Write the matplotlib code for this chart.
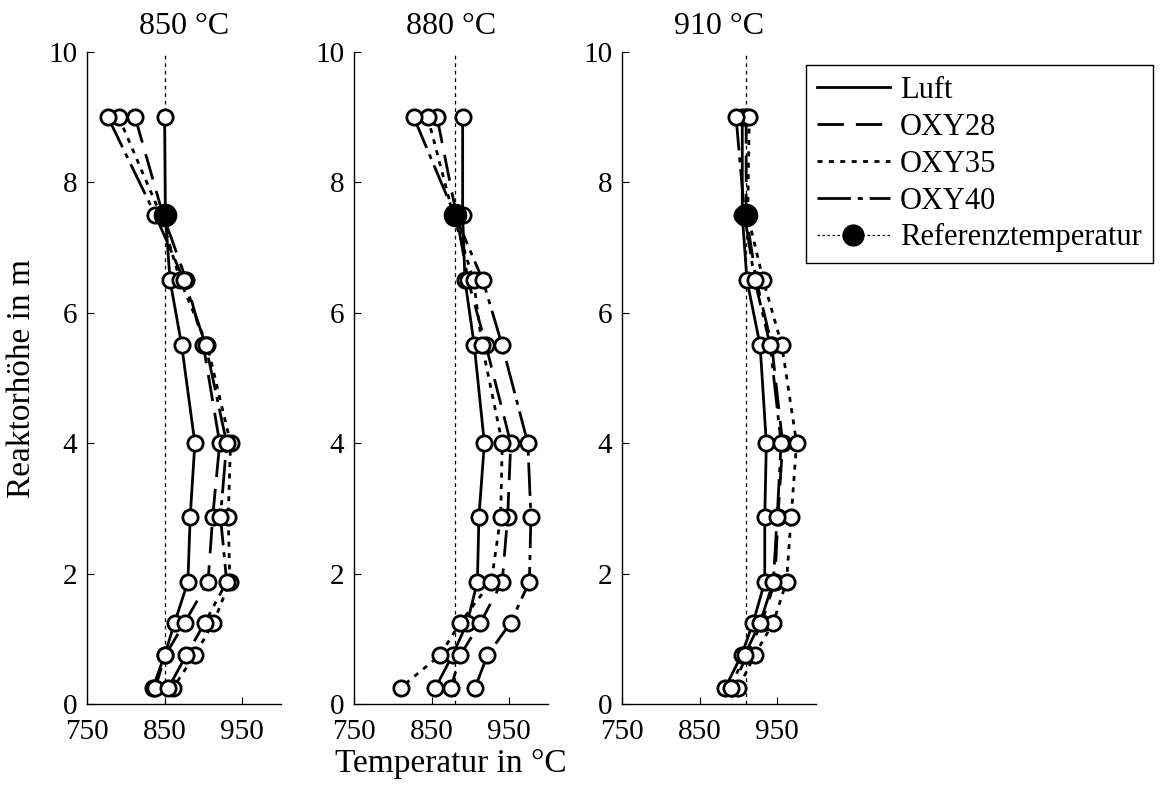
import numpy as np
import matplotlib.pyplot as plt
from matplotlib.lines import Line2D

plt.rcParams['font.family'] = ['Liberation Serif', 'DejaVu Serif']
plt.rcParams['font.size'] = 23

# Messhoehen im Reaktor (m)
hoehe = [9.0, 7.5, 6.5, 5.5, 4.0, 2.875, 1.875, 1.25, 0.75, 0.25]

# Referenztemperaturen der drei Versuchsreihen
ref_temp = [850, 880, 910]
titel = ['850 °C', '880 °C', '910 °C']

# Temperaturprofile in °C, 850 °C Referenz
luft_850 = [850, 851, 857, 872, 889, 883, 880, 863, 850, 835]
oxy28_850 = [812, 848, 878, 900, 921, 912, 906, 876, 851, 838]
oxy35_850 = [791, 845, 870, 905, 935, 932, 934, 913, 889, 861]
oxy40_850 = [777, 838, 875, 903, 930, 922, 930, 902, 878, 855]

# 880 °C Referenz
luft_880 = [890, 890, 893, 905, 918, 911, 909, 896, 877, 855]
oxy28_880 = [857, 882, 897, 920, 952, 948, 941, 913, 887, 875]
oxy35_880 = [845, 878, 904, 915, 941, 939, 927, 887, 861, 810]
oxy40_880 = [827, 880, 916, 941, 974, 978, 976, 952, 922, 906]

# 910 °C Referenz
luft_910 = [905, 905, 911, 928, 936, 934, 934, 919, 904, 883]
oxy28_910 = [910, 910, 923, 943, 957, 951, 947, 930, 911, 892]
oxy35_910 = [914, 912, 932, 956, 975, 968, 962, 945, 921, 900]
oxy40_910 = [897, 908, 921, 941, 955, 950, 945, 928, 908, 890]

luft = [luft_850, luft_880, luft_910]
oxy28 = [oxy28_850, oxy28_880, oxy28_910]
oxy35 = [oxy35_850, oxy35_880, oxy35_910]
oxy40 = [oxy40_850, oxy40_880, oxy40_910]

namen = ['Luft', 'OXY28', 'OXY35', 'OXY40']
stile = ['-', (0, (9.5, 4.3)), (0, (1.8, 2.3)), (0, (12, 2.5, 1.8, 2.5))]
lw = 2.0

fig = plt.figure(figsize=(11.65, 7.85), dpi=100)
lefts = [87/1165, 354/1165, 622/1165]
bottom = 1 - 704/785
height = (704 - 52)/785
width = 194/1165

for i in range(3):
    ax = fig.add_axes([lefts[i], bottom, width, height])
    # Referenztemperatur als senkrechte Linie
    ax.plot([ref_temp[i], ref_temp[i]], [0, 10], color='black',
            linestyle=(0, (3, 3)), linewidth=0.9, zorder=1)
    reihen = [luft[i], oxy28[i], oxy35[i], oxy40[i]]
    for k in range(4):
        ax.plot(reihen[k], hoehe, color='black', linestyle=stile[k],
                linewidth=lw, marker='o', markersize=11,
                markerfacecolor='white', markeredgecolor='black',
                markeredgewidth=2.0, zorder=3)
    ax.plot([ref_temp[i]], [7.5], marker='o', markersize=16,
            color='black', linestyle='none', zorder=4)
    ax.set_xlim(750, 1000)
    ax.set_ylim(0, 10)
    ax.set_xticks([750, 850, 950])
    ax.set_yticks([0, 2, 4, 6, 8, 10])
    ax.spines['top'].set_visible(False)
    ax.spines['right'].set_visible(False)
    for s in ['left', 'bottom']:
        ax.spines[s].set_linewidth(1.0)
    ax.tick_params(direction='in', length=5, width=0.8, labelsize=21)
    ax.tick_params(axis='x', pad=11)
    ax.tick_params(axis='y', pad=7)
    ax.set_title(titel[i], fontsize=23, pad=13)
    if i == 0:
        ax.set_ylabel('Reaktorhöhe in m', fontsize=24, labelpad=8)
    if i == 1:
        ax.set_xlabel('Temperatur in °C', fontsize=24, labelpad=2)

handles = []
for k in range(4):
    handles.append(Line2D([], [], color='black', linestyle=stile[k], linewidth=lw))
handles.append(Line2D([], [], color='black', linestyle=(0, (2, 2)), linewidth=0.9,
                      marker='o', markersize=15, markerfacecolor='black'))
leg = fig.legend(handles, namen + ['Referenztemperatur'], loc='upper left',
                 bbox_to_anchor=(806/1165, 1 - 65/785), fontsize=22,
                 handlelength=2.4, handletextpad=0.33, labelspacing=0.26,
                 borderpad=0.35, borderaxespad=0, fancybox=False,
                 edgecolor='black', framealpha=1)
leg.get_frame().set_linewidth(1.0)

fig.savefig('out.png', dpi=100)
